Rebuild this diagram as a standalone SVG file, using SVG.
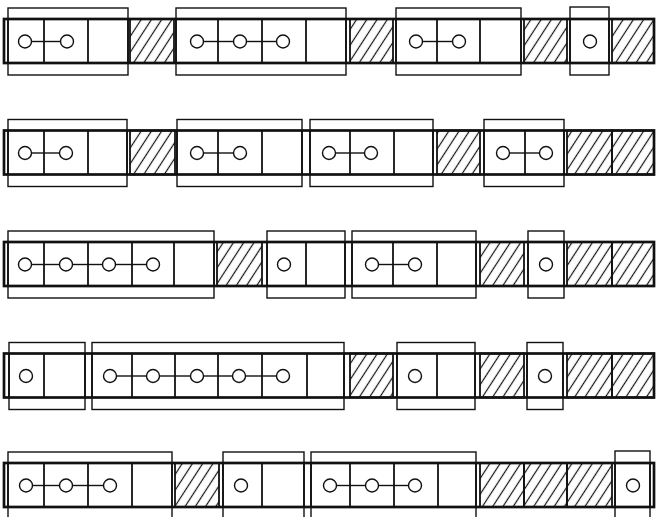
<svg xmlns="http://www.w3.org/2000/svg" width="657" height="517" viewBox="0 0 657 517">
<defs>
<pattern id="hatch" patternUnits="userSpaceOnUse" width="8.6" height="8.6" patternTransform="rotate(33)">
<line x1="4.3" y1="-1" x2="4.3" y2="9.6" stroke="#111" stroke-width="1.2"/>
</pattern>
</defs>
<style>
.band{fill:none;stroke:#111;stroke-width:2.7}
.box{fill:none;stroke:#111;stroke-width:1.4}
.div{stroke:#111;stroke-width:1.8}
.hat{fill:url(#hatch);stroke:#111;stroke-width:1.8}
.pin{fill:#fff;stroke:#111;stroke-width:1.4}
.link{stroke:#111;stroke-width:1.4}
</style>
<rect width="657" height="517" fill="#fff"/>

<!-- Row 1 -->
<g id="row1" transform="translate(0,8)">
<g id="r1-hatch">
<rect class="hat" x="130" y="11" width="44" height="44"/>
<rect class="hat" x="350" y="11" width="43" height="44"/>
<rect class="hat" x="524" y="11" width="43" height="44"/>
<rect class="hat" x="612" y="11" width="42" height="44"/>
</g>
<rect class="band" x="4" y="11" width="650" height="44"/>
<g id="r1a"><rect class="box" x="8" y="0" width="120" height="67"/><line class="div" x1="44" y1="11" x2="44" y2="55"/><line class="div" x1="88" y1="11" x2="88" y2="55"/><line class="div" x1="8" y1="11" x2="8" y2="55"/><line class="div" x1="128" y1="11" x2="128" y2="55"/></g>
<g id="r1b"><rect class="box" x="176" y="0" width="170" height="67"/><line class="div" x1="218" y1="11" x2="218" y2="55"/><line class="div" x1="262" y1="11" x2="262" y2="55"/><line class="div" x1="306" y1="11" x2="306" y2="55"/><line class="div" x1="176" y1="11" x2="176" y2="55"/><line class="div" x1="346" y1="11" x2="346" y2="55"/></g>
<g id="r1c"><rect class="box" x="396" y="0" width="125" height="67"/><line class="div" x1="437" y1="11" x2="437" y2="55"/><line class="div" x1="480" y1="11" x2="480" y2="55"/><line class="div" x1="396" y1="11" x2="396" y2="55"/><line class="div" x1="521" y1="11" x2="521" y2="55"/></g>
<g id="r1d"><rect class="box" x="570" y="-1" width="39" height="68"/><line class="div" x1="570" y1="11" x2="570" y2="55"/><line class="div" x1="609" y1="11" x2="609" y2="55"/></g>
<g id="r1-links">
<line class="link" x1="31.5" y1="33.5" x2="60.5" y2="33.5"/>
<line class="link" x1="203.5" y1="33.5" x2="233.5" y2="33.5"/>
<line class="link" x1="246.5" y1="33.5" x2="276.5" y2="33.5"/>
<line class="link" x1="422.5" y1="33.5" x2="452.5" y2="33.5"/>
</g>
<g id="r1-pins">
<circle class="pin" cx="25" cy="33.5" r="6.5"/><circle class="pin" cx="67" cy="33.5" r="6.5"/>
<circle class="pin" cx="197" cy="33.5" r="6.5"/><circle class="pin" cx="240" cy="33.5" r="6.5"/><circle class="pin" cx="283" cy="33.5" r="6.5"/>
<circle class="pin" cx="416" cy="33.5" r="6.5"/><circle class="pin" cx="459" cy="33.5" r="6.5"/>
<circle class="pin" cx="590" cy="33.5" r="6.5"/>
</g>
</g>

<!-- Row 2 -->
<g id="row2" transform="translate(0,119.5)">
<g id="r2-hatch">
<rect class="hat" x="130" y="11" width="45" height="44"/>
<rect class="hat" x="437" y="11" width="43" height="44"/>
<rect class="hat" x="567" y="11" width="45" height="44"/>
<rect class="hat" x="612" y="11" width="42" height="44"/>
</g>
<rect class="band" x="4" y="11" width="650" height="44"/>
<g id="r2a"><rect class="box" x="8" y="0" width="119" height="67"/><line class="div" x1="44" y1="11" x2="44" y2="55"/><line class="div" x1="88" y1="11" x2="88" y2="55"/><line class="div" x1="8" y1="11" x2="8" y2="55"/><line class="div" x1="127" y1="11" x2="127" y2="55"/></g>
<g id="r2b"><rect class="box" x="177" y="0" width="125" height="67"/><line class="div" x1="218" y1="11" x2="218" y2="55"/><line class="div" x1="262" y1="11" x2="262" y2="55"/><line class="div" x1="177" y1="11" x2="177" y2="55"/><line class="div" x1="302" y1="11" x2="302" y2="55"/></g>
<g id="r2c"><rect class="box" x="310" y="0" width="123" height="67"/><line class="div" x1="350" y1="11" x2="350" y2="55"/><line class="div" x1="394" y1="11" x2="394" y2="55"/><line class="div" x1="310" y1="11" x2="310" y2="55"/><line class="div" x1="433" y1="11" x2="433" y2="55"/></g>
<g id="r2d"><rect class="box" x="484" y="0" width="80" height="67"/><line class="div" x1="525" y1="11" x2="525" y2="55"/><line class="div" x1="484" y1="11" x2="484" y2="55"/><line class="div" x1="564" y1="11" x2="564" y2="55"/></g>
<g id="r2-links">
<line class="link" x1="31.5" y1="33.5" x2="59.5" y2="33.5"/>
<line class="link" x1="203.5" y1="33.5" x2="233.5" y2="33.5"/>
<line class="link" x1="335.5" y1="33.5" x2="364.5" y2="33.5"/>
<line class="link" x1="509.5" y1="33.5" x2="539.5" y2="33.5"/>
</g>
<g id="r2-pins">
<circle class="pin" cx="25" cy="33.5" r="6.5"/><circle class="pin" cx="66" cy="33.5" r="6.5"/>
<circle class="pin" cx="197" cy="33.5" r="6.5"/><circle class="pin" cx="240" cy="33.5" r="6.5"/>
<circle class="pin" cx="329" cy="33.5" r="6.5"/><circle class="pin" cx="371" cy="33.5" r="6.5"/>
<circle class="pin" cx="503" cy="33.5" r="6.5"/><circle class="pin" cx="546" cy="33.5" r="6.5"/>
</g>
</g>

<!-- Row 3 -->
<g id="row3" transform="translate(0,231)">
<g id="r3-hatch">
<rect class="hat" x="217" y="11" width="45" height="44"/>
<rect class="hat" x="480" y="11" width="44" height="44"/>
<rect class="hat" x="567" y="11" width="45" height="44"/>
<rect class="hat" x="612" y="11" width="42" height="44"/>
</g>
<rect class="band" x="4" y="11" width="650" height="44"/>
<g id="r3a"><rect class="box" x="8" y="0" width="206" height="67"/><line class="div" x1="44" y1="11" x2="44" y2="55"/><line class="div" x1="88" y1="11" x2="88" y2="55"/><line class="div" x1="132" y1="11" x2="132" y2="55"/><line class="div" x1="174" y1="11" x2="174" y2="55"/><line class="div" x1="8" y1="11" x2="8" y2="55"/><line class="div" x1="214" y1="11" x2="214" y2="55"/></g>
<g id="r3b"><rect class="box" x="267" y="0" width="78" height="67"/><line class="div" x1="306" y1="11" x2="306" y2="55"/><line class="div" x1="267" y1="11" x2="267" y2="55"/><line class="div" x1="345" y1="11" x2="345" y2="55"/></g>
<g id="r3c"><rect class="box" x="352" y="0" width="124" height="67"/><line class="div" x1="393" y1="11" x2="393" y2="55"/><line class="div" x1="437" y1="11" x2="437" y2="55"/><line class="div" x1="352" y1="11" x2="352" y2="55"/><line class="div" x1="476" y1="11" x2="476" y2="55"/></g>
<g id="r3d"><rect class="box" x="528" y="0" width="36" height="67"/><line class="div" x1="528" y1="11" x2="528" y2="55"/><line class="div" x1="564" y1="11" x2="564" y2="55"/></g>
<g id="r3-links">
<line class="link" x1="31.5" y1="33.5" x2="59.5" y2="33.5"/>
<line class="link" x1="72.5" y1="33.5" x2="102.5" y2="33.5"/>
<line class="link" x1="115.5" y1="33.5" x2="146.5" y2="33.5"/>
<line class="link" x1="378.5" y1="33.5" x2="408.5" y2="33.5"/>
</g>
<g id="r3-pins">
<circle class="pin" cx="25" cy="33.5" r="6.5"/><circle class="pin" cx="66" cy="33.5" r="6.5"/><circle class="pin" cx="109" cy="33.5" r="6.5"/><circle class="pin" cx="153" cy="33.5" r="6.5"/>
<circle class="pin" cx="284" cy="33.5" r="6.5"/>
<circle class="pin" cx="372" cy="33.5" r="6.5"/><circle class="pin" cx="415" cy="33.5" r="6.5"/>
<circle class="pin" cx="546" cy="33.5" r="6.5"/>
</g>
</g>

<!-- Row 4 -->
<g id="row4" transform="translate(0,342.5)">
<g id="r4-hatch">
<rect class="hat" x="350" y="11" width="43" height="44"/>
<rect class="hat" x="480" y="11" width="44" height="44"/>
<rect class="hat" x="567" y="11" width="45" height="44"/>
<rect class="hat" x="612" y="11" width="42" height="44"/>
</g>
<rect class="band" x="4" y="11" width="650" height="44"/>
<g id="r4a"><rect class="box" x="9" y="0" width="76" height="67"/><line class="div" x1="44" y1="11" x2="44" y2="55"/><line class="div" x1="9" y1="11" x2="9" y2="55"/><line class="div" x1="85" y1="11" x2="85" y2="55"/></g>
<g id="r4b"><rect class="box" x="92" y="0" width="252" height="67"/><line class="div" x1="132" y1="11" x2="132" y2="55"/><line class="div" x1="175" y1="11" x2="175" y2="55"/><line class="div" x1="218" y1="11" x2="218" y2="55"/><line class="div" x1="262" y1="11" x2="262" y2="55"/><line class="div" x1="307" y1="11" x2="307" y2="55"/><line class="div" x1="92" y1="11" x2="92" y2="55"/><line class="div" x1="344" y1="11" x2="344" y2="55"/></g>
<g id="r4c"><rect class="box" x="397" y="0" width="78" height="67"/><line class="div" x1="437" y1="11" x2="437" y2="55"/><line class="div" x1="397" y1="11" x2="397" y2="55"/><line class="div" x1="475" y1="11" x2="475" y2="55"/></g>
<g id="r4d"><rect class="box" x="527" y="0" width="36" height="67"/><line class="div" x1="527" y1="11" x2="527" y2="55"/><line class="div" x1="563" y1="11" x2="563" y2="55"/></g>
<g id="r4-links">
<line class="link" x1="116.5" y1="33.5" x2="146.5" y2="33.5"/>
<line class="link" x1="159.5" y1="33.5" x2="190.5" y2="33.5"/>
<line class="link" x1="203.5" y1="33.5" x2="232.5" y2="33.5"/>
<line class="link" x1="245.5" y1="33.5" x2="276.5" y2="33.5"/>
</g>
<g id="r4-pins">
<circle class="pin" cx="26" cy="33.5" r="6.5"/>
<circle class="pin" cx="110" cy="33.5" r="6.5"/><circle class="pin" cx="153" cy="33.5" r="6.5"/><circle class="pin" cx="197" cy="33.5" r="6.5"/><circle class="pin" cx="239" cy="33.5" r="6.5"/><circle class="pin" cx="283" cy="33.5" r="6.5"/>
<circle class="pin" cx="415" cy="33.5" r="6.5"/>
<circle class="pin" cx="545" cy="33.5" r="6.5"/>
</g>
</g>

<!-- Row 5 -->
<g id="row5" transform="translate(0,452)">
<g id="r5-hatch">
<rect class="hat" x="175" y="11" width="44" height="44"/>
<rect class="hat" x="480" y="11" width="44" height="44"/>
<rect class="hat" x="524" y="11" width="43" height="44"/>
<rect class="hat" x="567" y="11" width="45" height="44"/>
</g>
<rect class="band" x="4" y="11" width="650" height="44"/>
<g id="r5a"><rect class="box" x="8" y="0" width="164" height="67"/><line class="div" x1="44" y1="11" x2="44" y2="55"/><line class="div" x1="88" y1="11" x2="88" y2="55"/><line class="div" x1="132" y1="11" x2="132" y2="55"/><line class="div" x1="8" y1="11" x2="8" y2="55"/><line class="div" x1="172" y1="11" x2="172" y2="55"/></g>
<g id="r5b"><rect class="box" x="223" y="0" width="81" height="67"/><line class="div" x1="262" y1="11" x2="262" y2="55"/><line class="div" x1="223" y1="11" x2="223" y2="55"/><line class="div" x1="304" y1="11" x2="304" y2="55"/></g>
<g id="r5c"><rect class="box" x="311" y="0" width="165" height="67"/><line class="div" x1="350" y1="11" x2="350" y2="55"/><line class="div" x1="394" y1="11" x2="394" y2="55"/><line class="div" x1="438" y1="11" x2="438" y2="55"/><line class="div" x1="311" y1="11" x2="311" y2="55"/><line class="div" x1="476" y1="11" x2="476" y2="55"/></g>
<g id="r5d"><rect class="box" x="615" y="-1" width="35" height="68"/><line class="div" x1="615" y1="11" x2="615" y2="55"/><line class="div" x1="650" y1="11" x2="650" y2="55"/></g>
<g id="r5-links">
<line class="link" x1="32.5" y1="33.5" x2="59.5" y2="33.5"/>
<line class="link" x1="72.5" y1="33.5" x2="103.5" y2="33.5"/>
<line class="link" x1="336.5" y1="33.5" x2="365.5" y2="33.5"/>
<line class="link" x1="378.5" y1="33.5" x2="408.5" y2="33.5"/>
</g>
<g id="r5-pins">
<circle class="pin" cx="26" cy="33.5" r="6.5"/><circle class="pin" cx="66" cy="33.5" r="6.5"/><circle class="pin" cx="110" cy="33.5" r="6.5"/>
<circle class="pin" cx="241" cy="33.5" r="6.5"/>
<circle class="pin" cx="330" cy="33.5" r="6.5"/><circle class="pin" cx="372" cy="33.5" r="6.5"/><circle class="pin" cx="415" cy="33.5" r="6.5"/>
<circle class="pin" cx="633" cy="33.5" r="6.5"/>
</g>
</g>
</svg>
